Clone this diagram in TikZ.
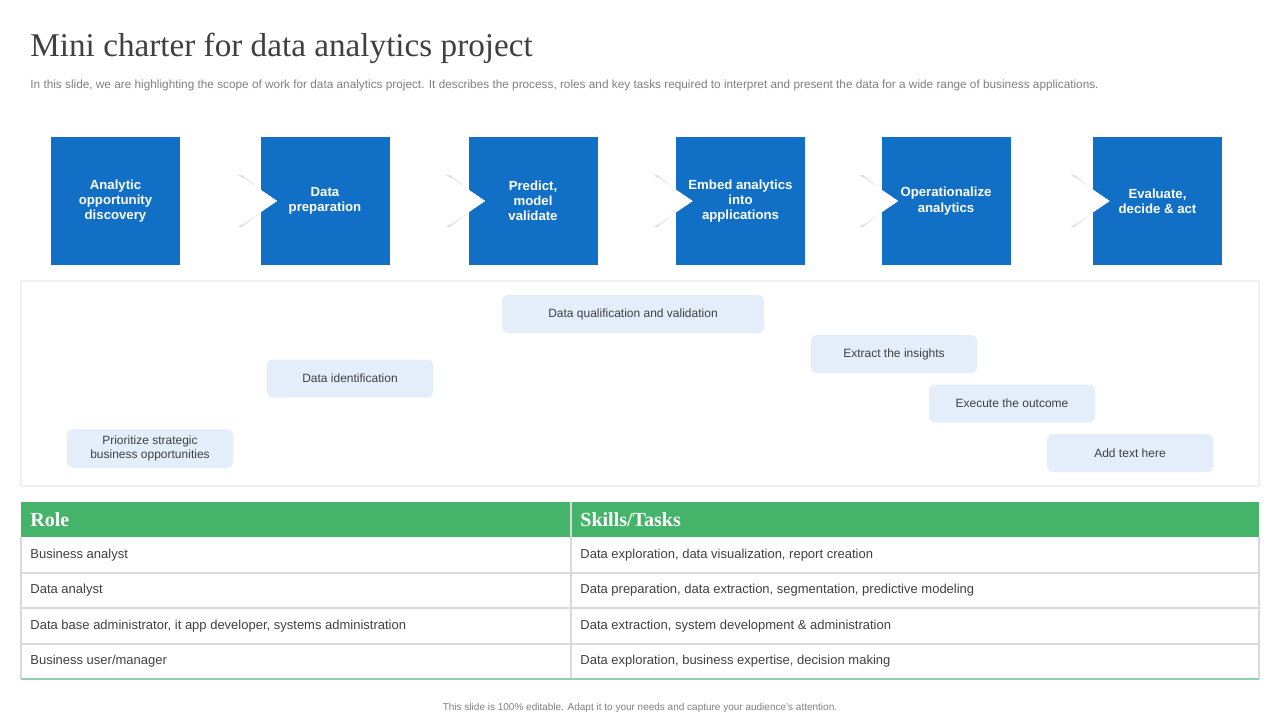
\documentclass[tikz,border=0pt]{standalone}
\usepackage{fontspec}
\setmainfont{Liberation Sans}
\newfontfamily\titlefont{Liberation Serif}
\definecolor{stepblue}{HTML}{1170C6}
\definecolor{pillblue}{HTML}{E3EEFA}
\definecolor{rolegreen}{HTML}{46B36A}
\definecolor{gridgray}{HTML}{D9D9D9}
\definecolor{txtgray}{HTML}{404040}
\tikzset{
	stepbox/.style={fill=stepblue, text=white, font=\fontsize{6.6}{7.6}\selectfont\bfseries, align=center},
	pill/.style={fill=pillblue, rounded corners=3pt, text=txtgray, font=\fontsize{6}{7}\selectfont, align=center, minimum height=19pt},
	cell/.style={anchor=west, inner sep=0pt, text=txtgray, font=\fontsize{6.5}{7}\selectfont},
	head/.style={anchor=west, inner sep=0pt, text=white, font=\titlefont\fontsize{10}{11}\selectfont\bfseries},
}
\begin{document}
\begin{tikzpicture}[x=0.5pt, y=-0.5pt]
	\useasboundingbox[fill=white] (0,0) rectangle (1280,720);
	% Titel
	\node[anchor=west, inner sep=0pt, text=txtgray, font=\titlefont\fontsize{16.6}{18}\selectfont] (title) at (30,48) {Mini charter for data analytics project};
	\node[anchor=west, inner sep=0pt, text=gray, font=\fontsize{5.9}{6.5}\selectfont] (sub) at (30,85) {In this slide, we are highlighting the scope of work for data analytics project. It describes the process, roles and key tasks required to interpret and present the data for a wide range of business applications.};
	% Prozessschritte
	\foreach \x/\name/\txt in {115.5/s1/{Analytic\\opportunity\\discovery}, 325/s2/{Data\\preparation}, 533/s3/{Predict,\\model\\validate}, 740.5/s4/{Embed analytics\\into\\applications}, 946/s5/{Operationalize\\analytics}, 1157.5/s6/{Evaluate,\\decide \& act}}
		\node[stepbox, minimum width=64.5pt, minimum height=64pt] (\name) at (\x,201) {\txt};
	% Pfeile
	\foreach \a/\b in {s1/s2, s2/s3, s3/s4, s4/s5, s5/s6}{
		\coordinate (tip) at ([xshift=8.5pt]\b.west);
		\fill[gray!25] ([xshift=-11pt, yshift=13pt]\b.west) -- (tip) -- ([xshift=-11pt, yshift=-13pt]\b.west) -- ([xshift=-9pt, yshift=-13pt]\b.west) -- ([xshift=7pt]\b.west) -- ([xshift=-9pt, yshift=13pt]\b.west) -- cycle;
		\fill[white] ([xshift=-9pt, yshift=12pt]\b.west) -- (tip) -- ([xshift=-9pt, yshift=-12pt]\b.west) -- ([xshift=0pt]\b.west) -- cycle;
	}
	% Panel
	\draw[gray!12, line width=1pt] (21,281) rectangle (1259,486);
	\node[pill, minimum width=131pt] (p1) at (633,314) {Data qualification and validation};
	\node[pill, minimum width=83pt] (p2) at (894,354) {Extract the insights};
	\node[pill, minimum width=83pt] (p3) at (350,378.5) {Data identification};
	\node[pill, minimum width=83pt] (p4) at (1012,403.5) {Execute the outcome};
	\node[pill, minimum width=83pt] (p5) at (150,448.5) {Prioritize strategic\\business opportunities};
	\node[pill, minimum width=83pt] (p6) at (1130,453) {Add text here};
	% Tabelle
	\fill[rolegreen] (21,502) rectangle (1259,537);
	\node[head] (hrole) at (30,520) {Role};
	\node[head] (hskill) at (580,520) {Skills/Tasks};
	\foreach \y in {573,608,644}
		\draw[gridgray, line width=0.6pt] (21,\y) -- (1259,\y);
	\draw[gridgray, line width=0.6pt] (21,537) -- (21,679) (1259,537) -- (1259,679) (571,502) -- (571,679);
	\draw[rolegreen!60, line width=1pt] (21,679) -- (1259,679);
	\foreach \y/\r/\s [count=\i] in {555/{Business analyst}/{Data exploration, data visualization, report creation}, 590/{Data analyst}/{Data preparation, data extraction, segmentation, predictive modeling}, 626/{Data base administrator, it app developer, systems administration}/{Data extraction, system development \& administration}, 661/{Business user/manager}/{Data exploration, business expertise, decision making}}{
		\node[cell] (r\i) at (30,\y) {\r};
		\node[cell] (k\i) at (580,\y) {\s};
	}
	% Fusszeile
	\node[text=gray, font=\fontsize{5}{6}\selectfont] (foot) at (640,708) {This slide is 100\% editable. Adapt it to your needs and capture your audience's attention.};
\end{tikzpicture}
\end{document}
